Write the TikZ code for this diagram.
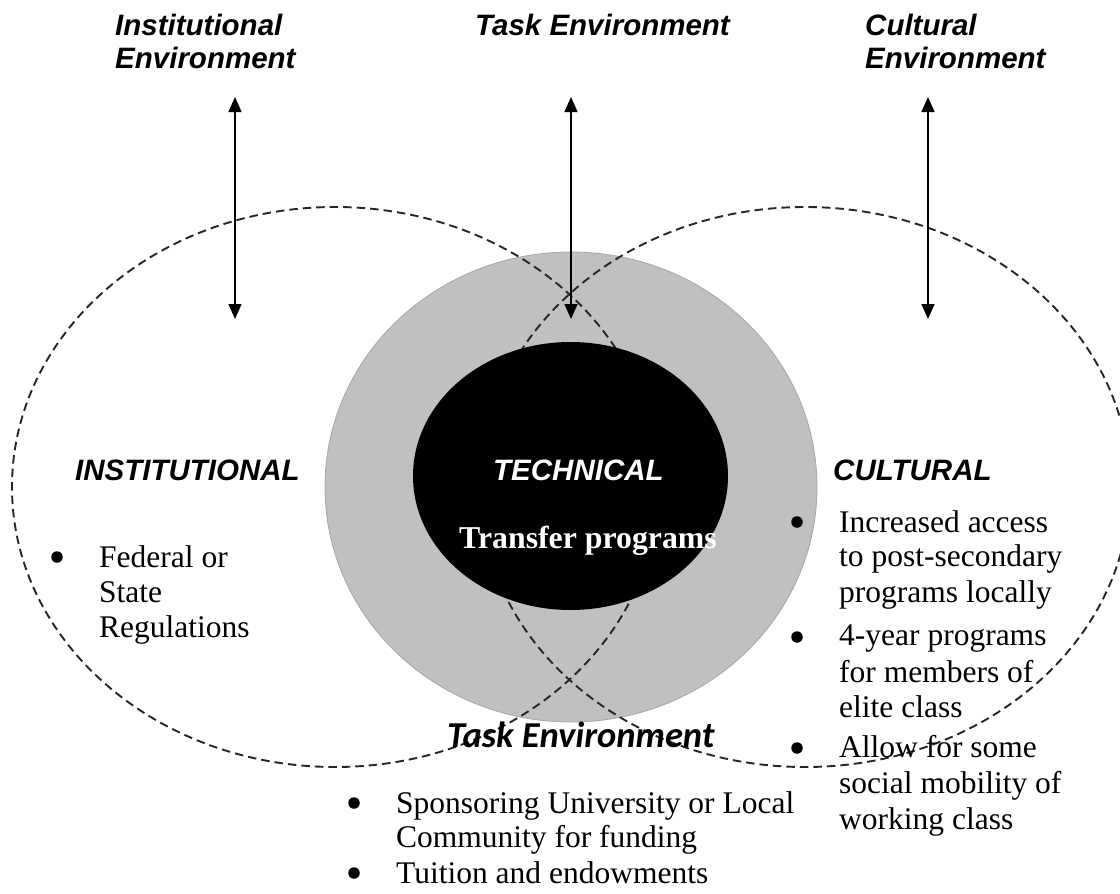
\documentclass[tikz,border=0pt]{standalone}
\usepackage{fontspec}
\setmainfont{Liberation Serif}
\newfontfamily\hfont{Liberation Sans}
\newfontfamily\cfont{Carlito}
\usetikzlibrary{arrows.meta}
\definecolor{ringgray}{HTML}{C0C0C0}
\definecolor{ringedge}{HTML}{A6A6A6}
\begin{document}
\begin{tikzpicture}[x=1pt,y=-1pt,
  head/.style={font=\hfont\bfseries\itshape\fontsize{29.5}{33}\selectfont, anchor=base west, inner sep=0pt},
  body/.style={font=\fontsize{31.5}{35}\selectfont, anchor=base west, inner sep=0pt},
  bul/.style={circle, fill=black, inner sep=0pt, minimum size=11.5pt},
  env/.style={draw=black!85, line width=1.9pt, dash pattern=on 8.5pt off 5pt},
  arr/.style={line width=1.4pt, {Triangle[length=15pt,width=13pt]}-{Triangle[length=15pt,width=13pt]}}
]
\useasboundingbox (0,0) rectangle (1120,894);
\fill[white] (0,0) rectangle (1120,894);

% gray ring
\filldraw[fill=ringgray, draw=ringedge, line width=0.8pt] (571,487) ellipse [x radius=246, y radius=235];

% dashed environment ellipses
\begin{scope}
\clip (0,0) rectangle (1120,894);
\draw[env] (335,487) ellipse [x radius=323, y radius=280];
\draw[env] (805,487) ellipse [x radius=325, y radius=280];
\end{scope}

% black core
\fill[black] (570.5,476) ellipse [x radius=157.5, y radius=134];

% arrows
\coordinate (a1t) at (235,97);  \coordinate (a1b) at (235,319);
\coordinate (a2t) at (571,97);  \coordinate (a2b) at (571,319);
\coordinate (a3t) at (928,97);  \coordinate (a3b) at (928,319);
\draw[arr] (a1t) -- (a1b);
\draw[arr] (a2t) -- (a2b);
\draw[arr] (a3t) -- (a3b);

% top headings
\node[head] (hi1) at (115,35) {Institutional};
\node[head] (hi2) at (115,68) {Environment};
\node[head] (ht)  at (475,35) {Task Environment};
\node[head] (hc1) at (865,35) {Cultural};
\node[head] (hc2) at (865,68) {Environment};

% region labels
\node[head] (lins) at (75,480) {INSTITUTIONAL};
\node[head, text=white] (ltech) at (493,480) {TECHNICAL};
\node[head] (lcult) at (833,480) {CULTURAL};
\node[anchor=base west, inner sep=0pt, text=white, font=\bfseries\fontsize{31.8}{35}\selectfont] (trans) at (459,548) {Transfer programs};

% institutional bullet
\node[bul] (b1) at (57,557) {};
\node[body] (f1) at (99,567) {Federal or};
\node[body] (f2) at (99,602) {State};
\node[body] (f3) at (99,637) {Regulations};

% cultural bullets
\node[bul] (c1b) at (797,522) {};
\node[body] (c11) at (839,532) {Increased access};
\node[body] (c12) at (839,566) {to post-secondary};
\node[body] (c13) at (839,602) {programs locally};
\node[bul] (c2b) at (797,637) {};
\node[body] (c21) at (839,645) {4-year programs};
\node[body] (c22) at (839,682) {for members of};
\node[body] (c23) at (839,717) {elite class};
\node[bul] (c3b) at (797,748) {};
\node[body] (c31) at (839,757) {Allow for some};
\node[body] (c32) at (839,793) {social mobility of};
\node[body] (c33) at (839,829) {working class};

% task environment (bottom)
\node[anchor=base west, inner sep=0pt, font=\cfont\bfseries\itshape\fontsize{36.5}{40}\selectfont] (tb) at (447,747) {Task Environment};
\node[bul] (t1b) at (354,803) {};
\node[body] (t11) at (396,813) {Sponsoring University or Local};
\node[body] (t12) at (396,847) {Community for funding};
\node[bul] (t2b) at (354,873) {};
\node[body] (t21) at (396,883) {Tuition and endowments};
\end{tikzpicture}
\end{document}
